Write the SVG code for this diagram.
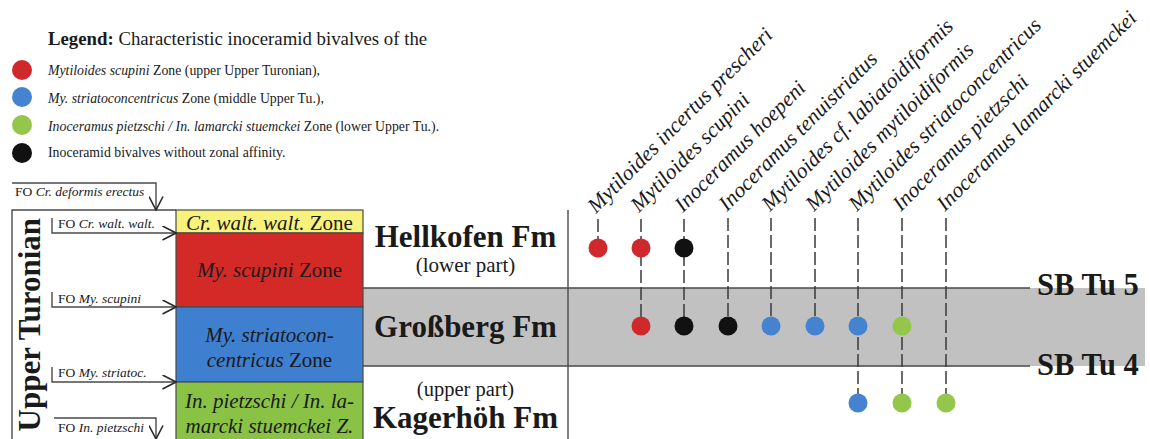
<svg xmlns="http://www.w3.org/2000/svg" width="1150" height="439" viewBox="0 0 1150 439">
<style>
  .serif { font-family: "Liberation Serif", "Times New Roman", serif; fill: #1a1a1a; }
  .it { font-style: italic; }
  .b { font-weight: bold; }
  .ln { stroke: #4a4a4a; stroke-width: 1.4; fill: none; }
  .dash { stroke: #3a3a3a; stroke-width: 1.5; fill: none; stroke-dasharray: 13 4; }
  .red { fill: #d0292b; }
  .blue { fill: #4583d0; }
  .green { fill: #93c64a; }
  .black { fill: #111111; }
  .zone { stroke: #4a4a4a; stroke-width: 1.2; }
  .lbl { font-size: 21.5px; font-style: italic; }
  .fo { font-size: 13.5px; }
</style>
<defs>
  <marker id="arr" viewBox="0 0 15 15" refX="14" refY="7.5" markerWidth="15" markerHeight="15" markerUnits="userSpaceOnUse" orient="auto">
    <path d="M0.5,0.5 L14,7.5 L0.5,14.5" fill="none" stroke="#2a2a2a" stroke-width="1.6"/>
  </marker>
</defs>

<!-- Legend -->
<g id="legend">
  <text class="serif" x="48" y="45" font-size="18.8"><tspan class="b">Legend:</tspan> Characteristic inoceramid bivalves of the</text>
  <circle class="red" cx="22" cy="70" r="10"/>
  <circle class="blue" cx="22" cy="97" r="10"/>
  <circle class="green" cx="22" cy="125" r="10"/>
  <circle class="black" cx="22" cy="153" r="10"/>
  <text class="serif" x="48" y="75" font-size="13.8"><tspan class="it">Mytiloides scupini</tspan> Zone (upper Upper Turonian),</text>
  <text class="serif" x="48" y="103" font-size="13.8"><tspan class="it">My. striatoconcentricus</tspan> Zone (middle Upper Tu.),</text>
  <text class="serif" x="48" y="131" font-size="13.8"><tspan class="it">Inoceramus pietzschi / In. lamarcki stuemckei</tspan> Zone (lower Upper Tu.).</text>
  <text class="serif" x="48" y="157" font-size="13.8">Inoceramid bivalves without zonal affinity.</text>
</g>

<!-- Stage column -->
<g id="stage">
  <path class="ln" d="M12,439 L12,210 L176,210"/>
  <text class="serif b" font-size="31" text-anchor="end" transform="translate(40,218) rotate(-90)">Upper Turonian</text>
</g>

<!-- Gray sequence band -->
<g id="band">
  <rect x="363" y="288" width="782" height="78" fill="#c1c1c1"/>
  <path class="ln" d="M363,288 L1030,288 M363,366 L1030,366"/>
  <text class="serif b" x="1037" y="295" font-size="30.5">SB Tu 5</text>
  <text class="serif b" x="1037" y="375" font-size="30.5">SB Tu 4</text>
</g>

<!-- Zones -->
<g id="zone-walt">
  <rect class="zone" x="176" y="210" width="187" height="23" fill="#f8f27c"/>
  <text class="serif" x="269.5" y="230" font-size="21" text-anchor="middle"><tspan class="it">Cr. walt. walt.</tspan> Zone</text>
</g>
<g id="zone-scupini">
  <rect class="zone" x="176" y="233" width="187" height="74" fill="#d42a27"/>
  <text class="serif" x="269.5" y="277" font-size="21" text-anchor="middle"><tspan class="it">My. scupini</tspan> Zone</text>
</g>
<g id="zone-striato">
  <rect class="zone" x="176" y="307" width="187" height="75" fill="#3e7fcf"/>
  <text class="serif" x="269.5" y="342" font-size="21" text-anchor="middle"><tspan class="it">My. striatocon-</tspan></text>
  <text class="serif" x="269.5" y="367" font-size="21" text-anchor="middle"><tspan class="it">centricus</tspan> Zone</text>
</g>
<g id="zone-pietzschi">
  <rect class="zone" x="176" y="382" width="187" height="60" fill="#89c245"/>
  <text class="serif it" x="269.5" y="408" font-size="21" text-anchor="middle">In. pietzschi / In. la-</text>
  <text class="serif it" x="269.5" y="433" font-size="21" text-anchor="middle">marcki stuemckei Z.</text>
</g>

<!-- Formations -->
<g id="formations">
  <path class="ln" d="M568,210 L568,439"/>
  <text class="serif b" x="465.5" y="247" font-size="31" text-anchor="middle">Hellkofen Fm</text>
  <text class="serif" x="465.5" y="272" font-size="21" text-anchor="middle">(lower part)</text>
  <text class="serif b" x="465.5" y="337" font-size="31" text-anchor="middle">Großberg Fm</text>
  <text class="serif" x="465.5" y="396" font-size="20.5" text-anchor="middle">(upper part)</text>
  <text class="serif b" x="465.5" y="428" font-size="31" text-anchor="middle">Kagerhöh Fm</text>
</g>

<!-- FO markers -->
<g id="fo-markers">
  <path class="ln" d="M12,183 L156,183 L156,210" marker-end="url(#arr)"/>
  <text class="serif fo" x="15" y="196">FO <tspan class="it">Cr. deformis erectus</tspan></text>
  <path class="ln" d="M52,218 L52,233 L176,233" marker-end="url(#arr)"/>
  <text class="serif fo" x="58" y="228">FO <tspan class="it">Cr. walt. walt.</tspan></text>
  <path class="ln" d="M52,292 L52,307 L176,307" marker-end="url(#arr)"/>
  <text class="serif fo" x="58" y="303">FO <tspan class="it">My. scupini</tspan></text>
  <path class="ln" d="M52,367 L52,382 L176,382" marker-end="url(#arr)"/>
  <text class="serif fo" x="58" y="377">FO <tspan class="it">My. striatoc.</tspan></text>
  <path class="ln" d="M54,418 L156,418 L156,439" marker-end="url(#arr)"/>
  <text class="serif fo" x="58" y="432">FO <tspan class="it">In. pietzschi</tspan></text>
</g>

<!-- Connectors -->
<g id="connectors">
  <line class="dash" x1="598" y1="219" x2="598" y2="248" stroke-dasharray="none"/>
  <line class="dash" x1="641" y1="219" x2="641" y2="326"/>
  <line class="dash" x1="684" y1="219" x2="684" y2="326"/>
  <line class="dash" x1="728" y1="218" x2="728" y2="326"/>
  <line class="dash" x1="771" y1="218" x2="771" y2="326"/>
  <line class="dash" x1="815" y1="218" x2="815" y2="326"/>
  <line class="dash" x1="858" y1="218" x2="858" y2="403"/>
  <line class="dash" x1="902" y1="218" x2="902" y2="403"/>
  <line class="dash" x1="946" y1="218" x2="946" y2="403"/>
</g>

<!-- Taxa -->
<g id="taxon-1">
  <text class="serif lbl" transform="translate(596,214) rotate(-45)">Mytiloides incertus prescheri</text>
  <circle class="red" cx="598" cy="248" r="9.5"/>
</g>
<g id="taxon-2">
  <text class="serif lbl" transform="translate(639,213) rotate(-45)">Mytiloides scupini</text>
  <circle class="red" cx="641" cy="248" r="9.5"/>
  <circle class="red" cx="641" cy="326" r="9.5"/>
</g>
<g id="taxon-3">
  <text class="serif lbl" transform="translate(683,213) rotate(-45)">Inoceramus hoepeni</text>
  <circle class="black" cx="684" cy="248" r="9.5"/>
  <circle class="black" cx="684" cy="326" r="9.5"/>
</g>
<g id="taxon-4">
  <text class="serif lbl" transform="translate(727,212) rotate(-45)">Inoceramus tenuistriatus</text>
  <circle class="black" cx="728" cy="326" r="9.5"/>
</g>
<g id="taxon-5">
  <text class="serif lbl" transform="translate(770,212) rotate(-45)">Mytiloides cf. labiatoidiformis</text>
  <circle class="blue" cx="771" cy="326" r="9.5"/>
</g>
<g id="taxon-6">
  <text class="serif lbl" transform="translate(814,212) rotate(-45)">Mytiloides mytiloidiformis</text>
  <circle class="blue" cx="815" cy="326" r="9.5"/>
</g>
<g id="taxon-7">
  <text class="serif lbl" transform="translate(857,212) rotate(-45)">Mytiloides striatoconcentricus</text>
  <circle class="blue" cx="858" cy="326" r="9.5"/>
  <circle class="blue" cx="858" cy="403" r="9.5"/>
</g>
<g id="taxon-8">
  <text class="serif lbl" transform="translate(901,212) rotate(-45)">Inoceramus pietzschi</text>
  <circle class="green" cx="902" cy="326" r="9.5"/>
  <circle class="green" cx="902" cy="403" r="9.5"/>
</g>
<g id="taxon-9">
  <text class="serif lbl" transform="translate(945,212) rotate(-45)">Inoceramus lamarcki stuemckei</text>
  <circle class="green" cx="946" cy="403" r="9.5"/>
</g>
</svg>
